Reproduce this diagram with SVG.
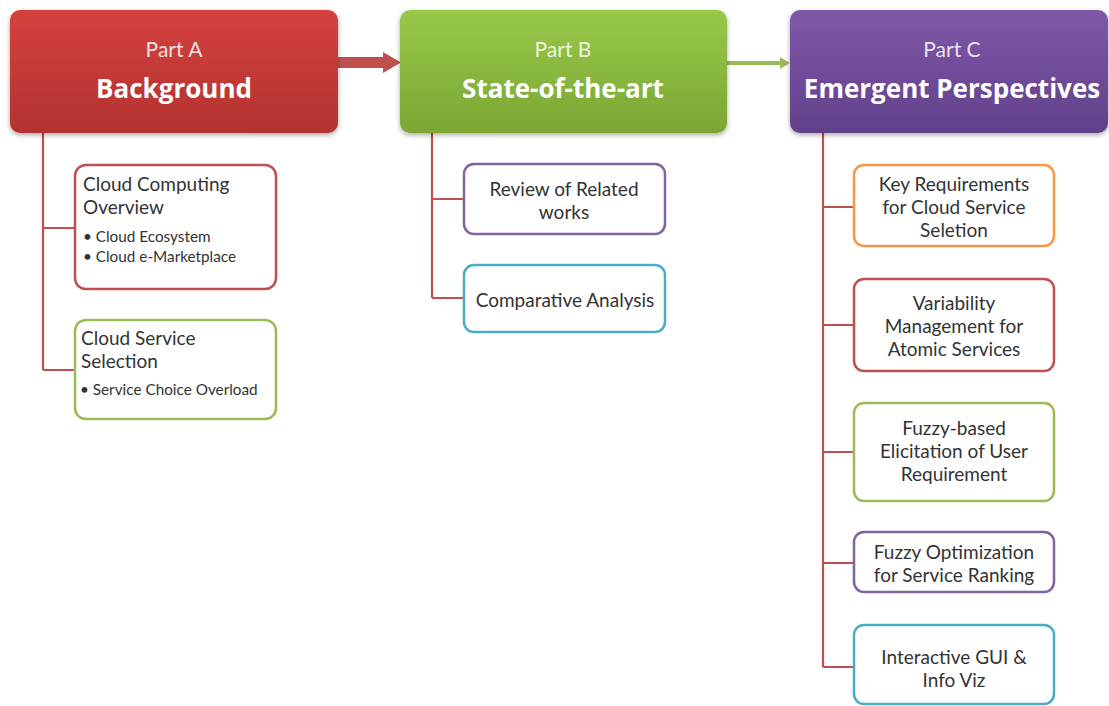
<svg xmlns="http://www.w3.org/2000/svg" width="1109" height="706" viewBox="0 0 1109 706">
  <style>
    .head-sub { font-family: Lato, "Open Sans", sans-serif; font-size: 21px; fill: #ffffff; fill-opacity: 0.85; text-anchor: middle; dominant-baseline: central; }
    .head-title { font-family: "Open Sans", Lato, sans-serif; font-size: 26px; font-weight: bold; fill: #ffffff; text-anchor: middle; dominant-baseline: central; }
    .box { fill: #ffffff; stroke-width: 2.5; }
    .txt { font-family: Lato, "Open Sans", sans-serif; font-size: 19px; fill: #333333; text-anchor: middle; dominant-baseline: central; }
    .txt-left { font-family: Lato, "Open Sans", sans-serif; font-size: 19px; fill: #333333; dominant-baseline: central; }
    .bullet { font-family: Lato, "Open Sans", sans-serif; font-size: 15.3px; fill: #333333; dominant-baseline: central; }
    .tree { fill: none; stroke: #c0504d; stroke-width: 2.2; }
    .red { stroke: #c0504d; } .green { stroke: #9bbb59; } .purple { stroke: #8064a2; }
    .cyan { stroke: #4bacc6; } .orange { stroke: #f79646; }
  </style>
  <defs>
    <linearGradient id="gRed" x1="0" y1="0" x2="0" y2="1">
      <stop offset="0" stop-color="#d4413e"/>
      <stop offset="1" stop-color="#b23330"/>
    </linearGradient>
    <linearGradient id="gGreen" x1="0" y1="0" x2="0" y2="1">
      <stop offset="0" stop-color="#98c84a"/>
      <stop offset="1" stop-color="#7ba733"/>
    </linearGradient>
    <linearGradient id="gPurple" x1="0" y1="0" x2="0" y2="1">
      <stop offset="0" stop-color="#7f58a8"/>
      <stop offset="1" stop-color="#62408a"/>
    </linearGradient>
    <filter id="shadow" x="-10%" y="-10%" width="120%" height="130%">
      <feDropShadow dx="0" dy="2" stdDeviation="2.5" flood-color="#000000" flood-opacity="0.35"/>
    </filter>
  </defs>

  <!-- connectors -->
  <g id="connectors">
    <!-- A to B: thick red arrow -->
    <polygon points="338,57 383,57 383,52 401,62.5 383,73 383,68 338,68" fill="#c0504d"/>
    <!-- B to C: thin green arrow -->
    <polygon points="727,61 780,61 780,57 790,63 780,69 780,65 727,65" fill="#9bbb59"/>
    <!-- tree under A -->
    <path class="tree" d="M43,133 V370 M43,228 H75 M43,370 H75"/>
    <!-- tree under B -->
    <path class="tree" d="M432,133 V298 M432,199 H464 M432,298 H464"/>
    <!-- tree under C -->
    <path class="tree" d="M823,133 V667 M823,207 H853 M823,325 H853 M823,452 H853 M823,563 H853 M823,667 H853"/>
  </g>

  <!-- section headers -->
  <g id="partA">
    <rect x="10" y="10" width="328" height="123" rx="10" fill="url(#gRed)" filter="url(#shadow)"/>
    <text class="head-sub" x="174" y="48">Part A</text>
    <text class="head-title" x="174" y="88">Background</text>
  </g>
  <g id="partB">
    <rect x="400" y="10" width="327" height="123" rx="10" fill="url(#gGreen)" filter="url(#shadow)"/>
    <text class="head-sub" x="563" y="48">Part B</text>
    <text class="head-title" x="563" y="88">State-of-the-art</text>
  </g>
  <g id="partC">
    <rect x="790" y="10" width="318" height="123" rx="10" fill="url(#gPurple)" filter="url(#shadow)"/>
    <text class="head-sub" x="952" y="48">Part C</text>
    <text class="head-title" x="952" y="88">Emergent Perspectives</text>
  </g>

  <!-- Part A children -->
  <g id="cloudComputingOverview">
    <rect class="box red" x="75" y="165" width="201" height="124" rx="11"/>
    <text class="txt-left" x="83" y="183">Cloud Computing</text>
    <text class="txt-left" x="83" y="206">Overview</text>
    <text class="bullet" x="83" y="236">• Cloud Ecosystem</text>
    <text class="bullet" x="83" y="256">• Cloud e-Marketplace</text>
  </g>
  <g id="cloudServiceSelection">
    <rect class="box green" x="75" y="320" width="201" height="99" rx="11"/>
    <text class="txt-left" x="81" y="337">Cloud Service</text>
    <text class="txt-left" x="81" y="360">Selection</text>
    <text class="bullet" x="80" y="389">• Service Choice Overload</text>
  </g>

  <!-- Part B children -->
  <g id="reviewRelatedWorks">
    <rect class="box purple" x="464" y="164" width="201" height="70" rx="10"/>
    <text class="txt" x="564" y="188">Review of Related</text>
    <text class="txt" x="564" y="211">works</text>
  </g>
  <g id="comparativeAnalysis">
    <rect class="box cyan" x="464" y="265" width="201" height="67" rx="10"/>
    <text class="txt" x="565" y="299">Comparative Analysis</text>
  </g>

  <!-- Part C children -->
  <g id="keyRequirements">
    <rect class="box orange" x="854" y="165" width="200" height="81" rx="10"/>
    <text class="txt" x="954" y="183">Key Requirements</text>
    <text class="txt" x="954" y="206">for Cloud Service</text>
    <text class="txt" x="954" y="229">Seletion</text>
  </g>
  <g id="variabilityManagement">
    <rect class="box red" x="854" y="279" width="200" height="92" rx="10"/>
    <text class="txt" x="954" y="302">Variability</text>
    <text class="txt" x="954" y="325">Management for</text>
    <text class="txt" x="954" y="348">Atomic Services</text>
  </g>
  <g id="fuzzyElicitation">
    <rect class="box green" x="854" y="403" width="200" height="98" rx="10"/>
    <text class="txt" x="954" y="427">Fuzzy-based</text>
    <text class="txt" x="954" y="450">Elicitation of User</text>
    <text class="txt" x="954" y="473">Requirement</text>
  </g>
  <g id="fuzzyOptimization">
    <rect class="box purple" x="854" y="532" width="200" height="60" rx="10"/>
    <text class="txt" x="954" y="551">Fuzzy Optimization</text>
    <text class="txt" x="954" y="574">for Service Ranking</text>
  </g>
  <g id="interactiveGui">
    <rect class="box cyan" x="854" y="625" width="200" height="79" rx="10"/>
    <text class="txt" x="954" y="656">Interactive GUI &amp;</text>
    <text class="txt" x="954" y="679">Info Viz</text>
  </g>
</svg>
